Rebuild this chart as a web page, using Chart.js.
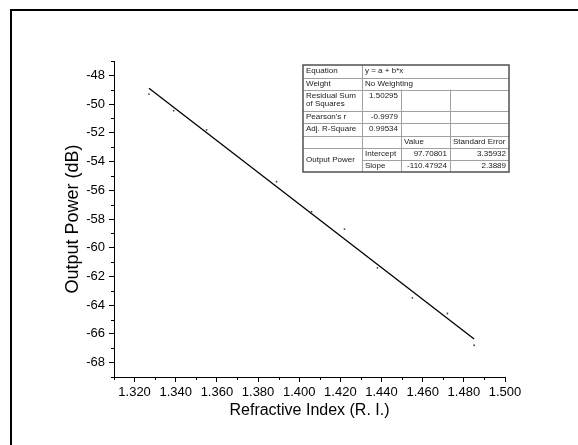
<!DOCTYPE html>
<html>
<head>
<meta charset="utf-8">
<script src="https://cdn.jsdelivr.net/npm/chart.js@4.4.1/dist/chart.umd.min.js"></script>
<style>
    html, body { margin: 0; padding: 0; background: #fff; }
    canvas { display: block; }
</style>
</head>
<body>
<canvas id="chart" width="578" height="445"></canvas>
<script>
// ----------------------------------------------------
// DATA
// ----------------------------------------------------
const refractiveIndex = [1.327, 1.339, 1.355, 1.389, 1.406, 1.422, 1.438, 1.455, 1.472, 1.485];
const outputPower = [-49.30, -50.46, -51.79, -55.40, -57.49, -58.70, -61.40, -63.49, -64.58, -66.79];

// linear fit line end points
const fitX = [1.327, 1.485];
const fitY = [-48.90, -66.35];

const xTicks = [1.32, 1.34, 1.36, 1.38, 1.40, 1.42, 1.44, 1.46, 1.48, 1.50];
const xMinorTicks = [1.31, 1.33, 1.35, 1.37, 1.39, 1.41, 1.43, 1.45, 1.47, 1.49];
const yTicks = [-68, -66, -64, -62, -60, -58, -56, -54, -52, -50, -48];
const yMinorTicks = [-69, -67, -65, -63, -61, -59, -57, -55, -53, -51, -49, -47];

// fit report table
const tableRows = [
    ["Equation", "y = a + b*x"],
    ["Weight", "No Weighting"],
    ["Residual Sum\nof Squares", "1.50295"],
    ["Pearson's r", "-0.9979"],
    ["Adj. R-Square", "0.99534"],
    ["", "", "Value", "Standard Error"],
    ["Output Power", "Intercept", "97.70801", "3.35932"],
    ["", "Slope", "-110.47924", "2.3889"]
];

const FONT = "'Liberation Sans', Arial, sans-serif";

// ----------------------------------------------------
// PLUGINS
// ----------------------------------------------------
const pageFramePlugin = {
    id: "pageFrame",
    beforeDraw(chart) {
        const { ctx, width, height } = chart;
        ctx.save();
        ctx.fillStyle = "#fff";
        ctx.fillRect(0, 0, width, height);
        ctx.strokeStyle = "#000";
        ctx.lineWidth = 2;
        ctx.beginPath();
        ctx.moveTo(11, height + 5);
        ctx.lineTo(11, 10);
        ctx.lineTo(width + 5, 10);
        ctx.stroke();
        ctx.restore();
    }
};

// minor ticks, outward
const minorTicksPlugin = {
    id: "minorTicks",
    afterDraw(chart) {
        const { ctx, chartArea, scales } = chart;
        ctx.save();
        ctx.strokeStyle = "#000";
        ctx.lineWidth = 1;
        ctx.beginPath();
        xMinorTicks.forEach(v => {
            const x = Math.round(scales.x.getPixelForValue(v)) + 0.5;
            ctx.moveTo(x, chartArea.bottom);
            ctx.lineTo(x, chartArea.bottom + 3);
        });
        yMinorTicks.forEach(v => {
            const y = Math.round(scales.y.getPixelForValue(v)) + 0.5;
            ctx.moveTo(chartArea.left, y);
            ctx.lineTo(chartArea.left - 3, y);
        });
        ctx.stroke();
        ctx.restore();
    }
};

// fit report table drawn on the page
const fitTablePlugin = {
    id: "fitTable",
    afterDraw(chart) {
        const { ctx } = chart;
        const cols = [303, 362, 401, 450, 509];
        const rowH = [12.5, 12, 21, 12.5, 12.5, 12.5, 12, 12];
        const top = 65;
        const rows = [top];
        rowH.forEach(h => rows.push(rows[rows.length - 1] + h));
        const bottom = rows[rows.length - 1];

        ctx.save();
        ctx.fillStyle = "#fff";
        ctx.fillRect(cols[0], top, cols[4] - cols[0], bottom - top);

        // inner lines
        ctx.strokeStyle = "#a0a0a0";
        ctx.lineWidth = 1;
        ctx.beginPath();
        for (let i = 1; i < rows.length - 1; i++) {
            const y = Math.round(rows[i]) + 0.5;
            const x0 = i === 7 ? cols[1] : cols[0];
            ctx.moveTo(x0, y);
            ctx.lineTo(cols[4], y);
        }
        ctx.moveTo(cols[1] + 0.5, top);
        ctx.lineTo(cols[1] + 0.5, bottom);
        [cols[2], cols[3]].forEach(x => {
            ctx.moveTo(x + 0.5, rows[2]);
            ctx.lineTo(x + 0.5, bottom);
        });
        ctx.stroke();

        // outer border
        ctx.strokeStyle = "#505050";
        ctx.lineWidth = 1.5;
        ctx.strokeRect(cols[0], top, cols[4] - cols[0], bottom - top);

        ctx.fillStyle = "#1a1a1a";
        ctx.font = `8px ${FONT}`;
        ctx.textBaseline = "middle";

        const cellText = (text, c, r, align, span) => {
            const lines = text.split("\n");
            const rEnd = r + (span || 1);
            const yMid = (rows[r] + rows[rEnd]) / 2;
            const lh = 8.5;
            let y = yMid - (lines.length - 1) * lh / 2;
            lines.forEach(line => {
                if (align === "right") {
                    ctx.textAlign = "right";
                    ctx.fillText(line, cols[c + 1] - 3, y);
                } else {
                    ctx.textAlign = "left";
                    ctx.fillText(line, cols[c] + 3, y);
                }
                y += lh;
            });
        };

        tableRows.forEach((row, r) => {
            row.forEach((text, c) => {
                if (!text) return;
                if (r === 6 && c === 0) {
                    cellText(text, 0, 6, "left", 2);
                    return;
                }
                if (r === 2 && c === 1) {
                    // value sits on the first text line
                    ctx.textAlign = "right";
                    ctx.fillText(text, cols[2] - 3, (rows[2] + rows[3]) / 2 - 4.25);
                    return;
                }
                const numeric = /^-?\d/.test(text) && r >= 2;
                cellText(text, c, r, numeric ? "right" : "left");
            });
        });
        ctx.restore();
    }
};

// ----------------------------------------------------
// CHART
// ----------------------------------------------------
new Chart(document.getElementById("chart"), {
    type: "scatter",
    data: {
        datasets: [
            {
                label: "Output Power",
                data: refractiveIndex.map((x, i) => ({ x, y: outputPower[i] })),
                pointRadius: 0.9,
                pointBackgroundColor: "#444",
                pointBorderWidth: 0,
                showLine: false
            },
            {
                label: "Linear Fit",
                data: fitX.map((x, i) => ({ x, y: fitY[i] })),
                showLine: true,
                borderColor: "#000",
                borderWidth: 1.3,
                pointRadius: 0
            }
        ]
    },
    options: {
        responsive: false,
        animation: false,
        events: [],
        layout: { padding: { left: 0, top: 61, right: 73, bottom: 0 } },
        plugins: {
            legend: { display: false },
            tooltip: { enabled: false }
        },
        scales: {
            x: {
                type: "linear",
                min: 1.31,
                max: 1.50,
                afterBuildTicks: scale => { scale.ticks = xTicks.map(v => ({ value: v })); },
                afterFit: scale => { scale.height = 68; },
                ticks: {
                    autoSkip: false,
                    maxRotation: 0,
                    padding: 3,
                    color: "#000",
                    font: { family: FONT, size: 13 },
                    callback: v => v.toFixed(3)
                },
                grid: {
                    drawOnChartArea: false,
                    tickLength: 5,
                    tickColor: "#000",
                    tickWidth: 1
                },
                border: { color: "#000", width: 1 },
                title: {
                    display: true,
                    text: "Refractive Index (R. I.)",
                    color: "#000",
                    font: { family: FONT, size: 16 },
                    padding: { top: 0, bottom: 25 }
                }
            },
            y: {
                type: "linear",
                min: -69,
                max: -47,
                afterBuildTicks: scale => { scale.ticks = yTicks.map(v => ({ value: v })); },
                afterFit: scale => { scale.width = 114; },
                ticks: {
                    autoSkip: false,
                    padding: 4,
                    color: "#000",
                    font: { family: FONT, size: 13 },
                    callback: v => String(v)
                },
                grid: {
                    drawOnChartArea: false,
                    tickLength: 5,
                    tickColor: "#000",
                    tickWidth: 1
                },
                border: { color: "#000", width: 1 },
                title: {
                    display: true,
                    text: "Output Power (dB)",
                    color: "#000",
                    font: { family: FONT, size: 18 },
                    padding: { top: 62, bottom: 0 }
                }
            }
        }
    },
    plugins: [pageFramePlugin, minorTicksPlugin, fitTablePlugin]
});
</script>
</body>
</html>
